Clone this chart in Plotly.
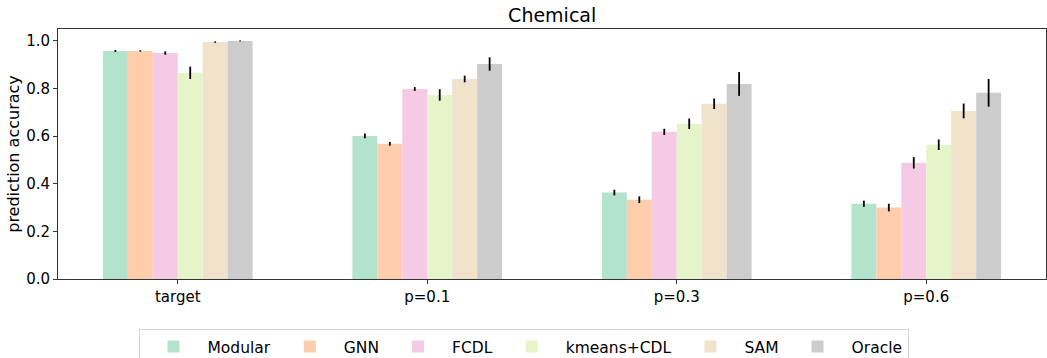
import plotly.graph_objects as go

groups = ["target", "p=0.1", "p=0.3", "p=0.6"]
methods = ["Modular", "GNN", "FCDL", "kmeans+CDL", "SAM", "Oracle"]
colors = ["#b3e2cd", "#fdcdac", "#f4cae4", "#e6f5c9", "#f1e2cc", "#cccccc"]

modular = [0.958, 0.601, 0.363, 0.316]
gnn = [0.958, 0.568, 0.333, 0.300]
fcdl = [0.949, 0.798, 0.618, 0.488]
kmeans_cdl = [0.866, 0.773, 0.652, 0.564]
sam = [0.995, 0.840, 0.736, 0.706]
oracle = [1.000, 0.903, 0.819, 0.782]

modular_err = [0.004, 0.010, 0.012, 0.013]
gnn_err = [0.003, 0.008, 0.014, 0.016]
fcdl_err = [0.007, 0.008, 0.013, 0.024]
kmeans_cdl_err = [0.026, 0.024, 0.022, 0.022]
sam_err = [0.003, 0.014, 0.022, 0.031]
oracle_err = [0.002, 0.028, 0.050, 0.058]

values = [modular, gnn, fcdl, kmeans_cdl, sam, oracle]
errors = [modular_err, gnn_err, fcdl_err, kmeans_cdl_err, sam_err, oracle_err]

FONT = "DejaVu Sans"

fig = go.Figure()
for name, vals, errs, col in zip(methods, values, errors, colors):
    fig.add_trace(go.Bar(
        x=groups, y=vals, name=name,
        marker=dict(color=col, line=dict(width=0)),
        error_y=dict(type="data", array=errs, visible=True,
                     color="black", thickness=1.8, width=0),
    ))

fig.update_layout(
    width=1047, height=358,
    margin=dict(l=58, r=1, t=29, b=79),
    paper_bgcolor="white", plot_bgcolor="white",
    barmode="group", bargap=0.4, bargroupgap=0,
    font=dict(family=FONT, size=15, color="#000"),
    title=dict(text="Chemical", x=0.5274, xanchor="center",
               y=1 - 15 / 358, yanchor="middle",
               font=dict(family=FONT, size=19, color="#000")),
    showlegend=True,
    legend=dict(orientation="h", xref="container", yref="container",
                x=0.5, xanchor="center", y=1 - 329 / 358, yanchor="top",
                bordercolor="#d5d5d5", borderwidth=1,
                font=dict(family=FONT, size=15.5, color="#000"),
                itemwidth=58, traceorder="normal"),
)
fig.update_xaxes(
    type="category", range=[-0.48, 3.48],
    showline=True, linecolor="#333", linewidth=1, mirror=True,
    ticks="outside", ticklen=4, tickcolor="#333",
    showgrid=False, zeroline=False,
    tickfont=dict(family=FONT, size=15, color="#000"),
)
fig.update_yaxes(
    range=[0, 1.05],
    tickvals=[0.0, 0.2, 0.4, 0.6, 0.8, 1.0],
    ticktext=["0.0", "0.2", "0.4", "0.6", "0.8", "1.0"],
    showline=True, linecolor="#333", linewidth=1, mirror=True,
    ticks="outside", ticklen=4, tickcolor="#333",
    showgrid=False, zeroline=False,
    tickfont=dict(family=FONT, size=15, color="#000"),
    title=dict(text="prediction accuracy", standoff=2,
               font=dict(family=FONT, size=16, color="#000")),
)

fig.write_html("out.html")
